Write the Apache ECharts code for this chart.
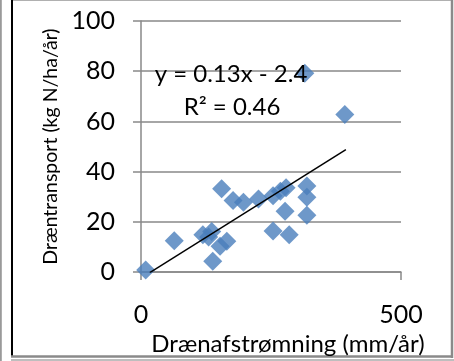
<!DOCTYPE html>
<html>
<head>
<meta charset="utf-8">
<script src="https://cdn.jsdelivr.net/npm/echarts@6/dist/echarts.min.js"></script>
<style>
  html, body { margin: 0; padding: 0; background: #fff; overflow: hidden; }
  #chart { width: 454px; height: 361px; }
</style>
</head>
<body>
<div id="chart"></div>
<script>
// Drain discharge (mm/yr) vs. nitrogen drain transport (kg N/ha/yr)
const runoff = [9, 64, 119, 136, 130, 138, 155, 152, 165, 177, 197, 226, 254, 268, 279, 277, 254, 285, 315, 319, 319, 319, 392];
const transport = [0.8, 12.5, 14.9, 16.2, 14.0, 4.3, 33.2, 10.3, 12.3, 28.5, 27.8, 29.1, 30.4, 32.2, 33.6, 24.2, 16.4, 14.9, 79.2, 34.3, 29.8, 22.6, 62.8];

// Linear trend as reported in the equation label
const trendSlope = 0.13;
const trendIntercept = -2.4;
const trendR2 = 0.46;
const trendRange = [17, 394];

const xTicks = [0, 500];
const yTicks = [0, 20, 40, 60, 80, 100];

const FONT = 'Lato, "Open Sans", sans-serif';
const GRID_GRAY = '#898989';

const chart = echarts.init(document.getElementById('chart'), null, { renderer: 'canvas' });

const trendData = trendRange.map(x => [x, trendSlope * x + trendIntercept]);

chart.setOption({
  animation: false,
  backgroundColor: '#fff',
  grid: { left: 141, top: 21, right: 53, bottom: 83, containLabel: false },
  xAxis: {
    type: 'value',
    min: xTicks[0],
    max: xTicks[xTicks.length - 1],
    interval: xTicks[1] - xTicks[0],
    name: 'Drænafstrømning (mm/år)',
    nameLocation: 'middle',
    nameGap: 52,
    nameTextStyle: { fontFamily: FONT, fontSize: 24, color: '#000', padding: [0, 0, 0, 34] },
    axisLine: { show: true, onZero: false, lineStyle: { color: GRID_GRAY, width: 1.5 } },
    axisTick: { show: true, inside: false, length: 8, lineStyle: { color: GRID_GRAY, width: 1.5 } },
    axisLabel: { fontFamily: FONT, fontSize: 25, color: '#000', margin: 30 },
    splitLine: { show: false }
  },
  yAxis: {
    type: 'value',
    min: yTicks[0],
    max: yTicks[yTicks.length - 1],
    interval: yTicks[1] - yTicks[0],
    name: 'Dræntransport (kg N/ha/år)',
    nameLocation: 'middle',
    nameGap: 75,
    nameTextStyle: { fontFamily: FONT, fontSize: 19.5, color: '#000' },
    axisLine: { show: true, lineStyle: { color: GRID_GRAY, width: 1.5 } },
    axisTick: { show: true, inside: false, length: 8, lineStyle: { color: GRID_GRAY, width: 1.5 } },
    axisLabel: { fontFamily: FONT, fontSize: 25, color: '#000', margin: 26 },
    splitLine: { show: true, lineStyle: { color: GRID_GRAY, width: 1.5 } }
  },
  series: [
    {
      type: 'scatter',
      data: runoff.map((x, i) => [x, transport[i]]),
      symbol: 'diamond',
      symbolSize: 19,
      itemStyle: { color: '#4a7ebb' },
      z: 3
    },
    {
      type: 'line',
      data: trendData,
      symbol: 'none',
      lineStyle: { color: '#000', width: 1.5 },
      z: 4
    }
  ],
  graphic: [
    // equation and fit quality
    { type: 'text', x: 231, y: 74, z: 10,
      style: { text: 'y = ' + trendSlope.toFixed(2) + 'x - ' + Math.abs(trendIntercept).toFixed(1),
               font: '24px ' + FONT, fill: '#000', textAlign: 'center', textVerticalAlign: 'middle' } },
    { type: 'text', x: 232, y: 107, z: 10,
      style: { text: 'R² = ' + trendR2.toFixed(2),
               font: '24px ' + FONT, fill: '#000', textAlign: 'center', textVerticalAlign: 'middle' } },
    // frame around the chart
    { type: 'line', shape: { x1: 0.8, y1: 0, x2: 0.8, y2: 361 }, style: { stroke: '#9a9a9a', lineWidth: 2 } },
    { type: 'line', shape: { x1: 13, y1: 0.5, x2: 452, y2: 0.5 }, style: { stroke: '#b0b0b0', lineWidth: 1 } },
    { type: 'line', shape: { x1: 452, y1: 0, x2: 452, y2: 358 }, style: { stroke: '#8a8a8a', lineWidth: 2.5 } },
    { type: 'line', shape: { x1: 12, y1: 0, x2: 12, y2: 357 }, style: { stroke: '#000', lineWidth: 2 } },
    { type: 'line', shape: { x1: 11, y1: 356.5, x2: 452, y2: 356.5 }, style: { stroke: '#8a8a8a', lineWidth: 2.5 } },
    { type: 'line', shape: { x1: 11, y1: 360, x2: 454, y2: 360 }, style: { stroke: '#a8a8a8', lineWidth: 1.5 } }
  ]
});
</script>
</body>
</html>
